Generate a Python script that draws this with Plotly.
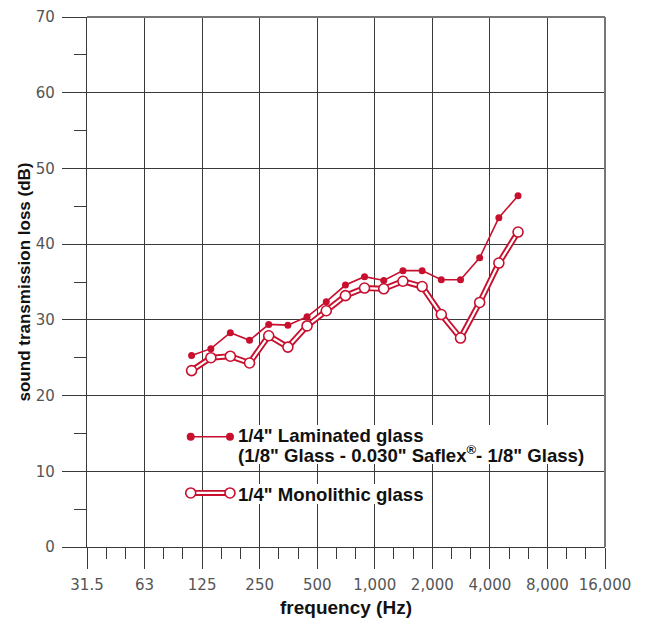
import math
import plotly.graph_objects as go

# ---- data ----
freq_hz = [111, 140, 177, 223, 281, 354, 446, 562, 708, 891, 1123, 1415, 1783, 2246, 2830, 3565, 4492, 5660]
laminated_db = [25.3, 26.2, 28.3, 27.3, 29.4, 29.3, 30.4, 32.4, 34.6, 35.7, 35.2, 36.5, 36.5, 35.3, 35.3, 38.2, 43.5, 46.4]
monolithic_db = [23.3, 25.0, 25.2, 24.3, 27.9, 26.4, 29.2, 31.2, 33.2, 34.2, 34.1, 35.1, 34.4, 30.7, 27.6, 32.3, 37.5, 41.6]
x_tick_labels = ["31.5", "63", "125", "250", "500", "1,000", "2,000", "4,000", "8,000", "16,000"]
y_tick_values = [0, 10, 20, 30, 40, 50, 60, 70]
y_minor_values = [5, 15, 25, 35, 45, 55, 65]
laminated_line1 = "1/4\" Laminated glass"
laminated_line2 = "(1/8\" Glass - 0.030\" Saflex<sup>®</sup>- 1/8\" Glass)"
monolithic_name = "1/4\" Monolithic glass"

RED = "#c8102e"
GRID = "#3a3a3a"
BASE = 31.5
x_tick_values = [BASE * 2 ** k for k in range(len(x_tick_labels))]
x_minor_values = [BASE * 2 ** (k / 3) for k in range(1, 27) if k % 3]

fig = go.Figure()

# monolithic: double line (red outer, white inner) with open circles
fig.add_trace(go.Scatter(x=freq_hz, y=monolithic_db, mode="lines",
                         line=dict(color=RED, width=6), showlegend=False, hoverinfo="skip"))
fig.add_trace(go.Scatter(x=freq_hz, y=monolithic_db, mode="lines+markers",
                         line=dict(color="white", width=2.2),
                         marker=dict(symbol="circle", size=10, color="white",
                                     line=dict(color=RED, width=1.6)),
                         name=monolithic_name, showlegend=False))
# laminated: thin line with filled dots
fig.add_trace(go.Scatter(x=freq_hz, y=laminated_db, mode="lines+markers",
                         line=dict(color=RED, width=1.6),
                         marker=dict(symbol="circle", size=7, color=RED),
                         name=laminated_line1, showlegend=False))

# legend samples on an overlay axis in plot fractions
leg_x = [0.2002, 0.276]
fig.add_trace(go.Scatter(x=leg_x, y=[0.208, 0.208], xaxis="x2", yaxis="y2", mode="lines+markers",
                         line=dict(color=RED, width=1.6), marker=dict(size=8, color=RED),
                         showlegend=False, hoverinfo="skip"))
fig.add_trace(go.Scatter(x=leg_x, y=[0.102, 0.102], xaxis="x2", yaxis="y2", mode="lines",
                         line=dict(color=RED, width=6), showlegend=False, hoverinfo="skip"))
fig.add_trace(go.Scatter(x=leg_x, y=[0.102, 0.102], xaxis="x2", yaxis="y2", mode="lines+markers",
                         line=dict(color="white", width=2.2),
                         marker=dict(size=10, color="white", line=dict(color=RED, width=1.6)),
                         showlegend=False, hoverinfo="skip"))

# white backing behind legend texts (covers grid lines)
for x1, y0, y1 in [(0.967, 0.1566, 0.2302), (0.662, 0.0811, 0.1189)]:
    fig.add_shape(type="rect", xref="paper", yref="paper", x0=0.2896, x1=x1, y0=y0, y1=y1,
                  fillcolor="white", line=dict(width=0), layer="above")

bold = dict(family="Liberation Sans, Arial, sans-serif", size=18.6, color="#111", weight="bold")
for txt, yy in [(laminated_line1, 0.2113), (laminated_line2, 0.1749), (monolithic_name, 0.1000)]:
    fig.add_annotation(xref="paper", yref="paper", x=0.2896, y=yy, xanchor="left", yanchor="middle",
                       text=txt, showarrow=False, align="left", font=bold, borderpad=0)

# top and right border
fig.add_shape(type="line", xref="paper", yref="paper", x0=0, x1=1, y0=1, y1=1,
              line=dict(color="#777", width=2))
fig.add_shape(type="line", xref="paper", yref="paper", x0=1, x1=1, y0=0, y1=1,
              line=dict(color="#777", width=2))

tick_font = dict(family="DejaVu Sans, sans-serif", size=15, color="#555")

fig.update_layout(
    width=647, height=618,
    margin=dict(l=87, r=42, t=17, b=71, autoexpand=False),
    paper_bgcolor="white", plot_bgcolor="white",
    xaxis=dict(type="log", range=[math.log10(BASE), math.log10(BASE * 2 ** 9)],
               tickmode="array", tickvals=x_tick_values, ticktext=x_tick_labels,
               ticks="outside", ticklen=21, tickwidth=1.3, tickcolor=GRID,
               showgrid=True, gridcolor=GRID, gridwidth=1.3,
               minor=dict(tickmode="array", tickvals=x_minor_values, ticks="outside",
                          ticklen=11, tickwidth=1.3, tickcolor=GRID, showgrid=False),
               showline=True, linecolor=GRID, linewidth=1.3, zeroline=False,
               tickfont=tick_font, ticklabelstandoff=3, automargin=False,
               title=dict(text="frequency (Hz)", standoff=8,
                          font=dict(family="Liberation Sans, Arial, sans-serif", size=19,
                                    color="#111", weight="bold"))),
    yaxis=dict(range=[0, 70], tickmode="array", tickvals=y_tick_values,
               ticks="outside", ticklen=24, tickwidth=1.3, tickcolor=GRID,
               showgrid=True, gridcolor=GRID, gridwidth=1.3,
               minor=dict(tickmode="array", tickvals=y_minor_values, ticks="outside",
                          ticklen=12, tickwidth=1.3, tickcolor=GRID, showgrid=False),
               showline=True, linecolor=GRID, linewidth=1.3, zeroline=False,
               tickfont=tick_font, ticklabelstandoff=4, automargin=False,
               title=dict(text="sound transmission loss (dB)", standoff=0,
                          font=dict(family="Liberation Sans, Arial, sans-serif", size=17,
                                    color="#111", weight="bold"))),
    xaxis2=dict(overlaying="x", range=[0, 1], visible=False),
    yaxis2=dict(overlaying="y", range=[0, 1], visible=False),
)

fig.write_html("out.html")
